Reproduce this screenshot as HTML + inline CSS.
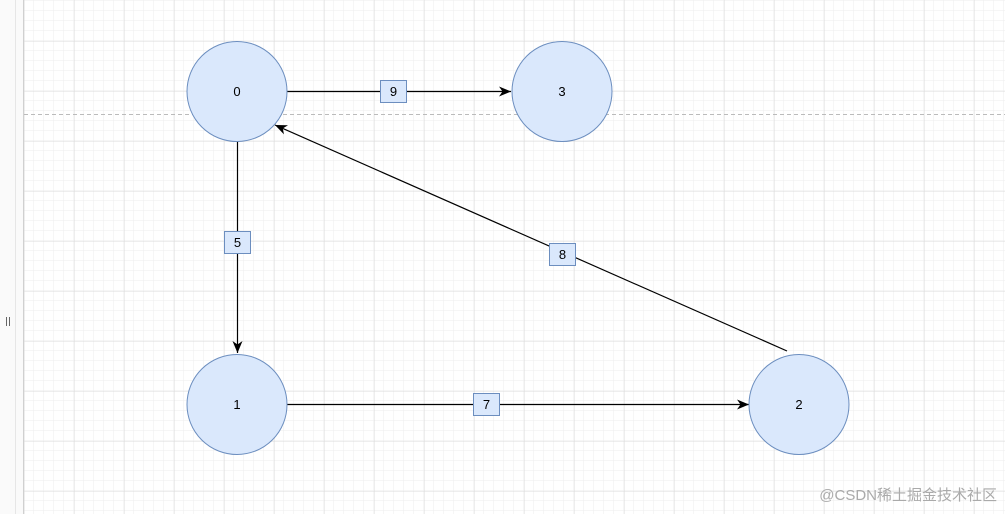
<!DOCTYPE html>
<html><head><style>
body{margin:0;width:1005px;height:514px;overflow:hidden;background:#fff;font-family:"Liberation Sans",sans-serif}
</style></head><body>
<svg width="1005" height="514" xmlns="http://www.w3.org/2000/svg">
<defs>
<pattern id="mn" x="24" y="1" width="10" height="10" patternUnits="userSpaceOnUse"><path d="M10 0V10M0 10H10" stroke="#eeeeee" stroke-width="1" fill="none"/></pattern>
<pattern id="mj" x="24.5" y="41.5" width="50" height="50" patternUnits="userSpaceOnUse"><path d="M0 0V50M0 0H50" stroke="#dcdcdc" stroke-width="1" fill="none"/></pattern>
<marker id="a" markerWidth="13" markerHeight="12" refX="12" refY="6" orient="auto" markerUnits="userSpaceOnUse"><path d="M0 1L12 6L0 11L3.5 6Z" fill="#000"/></marker>
</defs>
<rect x="0" y="0" width="23" height="514" fill="#fafafa"/>
<line x1="15.5" y1="0" x2="15.5" y2="514" stroke="#e6e6e6"/>
<line x1="23.5" y1="0" x2="23.5" y2="514" stroke="#d0d0d0"/>
<rect x="24" y="0" width="981" height="514" fill="url(#mn)"/>
<rect x="24" y="0" width="981" height="514" fill="url(#mj)"/>
<line x1="24" y1="114.5" x2="1005" y2="114.5" stroke="#bbb" stroke-dasharray="4,3"/>
<rect x="6" y="317" width="1" height="9" fill="#666"/><rect x="9" y="317" width="1" height="9" fill="#666"/>
<g stroke="#000" stroke-width="1.2" fill="none">
<line x1="287" y1="91.5" x2="511" y2="91.5" marker-end="url(#a)"/>
<line x1="237.5" y1="141" x2="237.5" y2="353" marker-end="url(#a)"/>
<line x1="287" y1="404.5" x2="749" y2="404.5" marker-end="url(#a)"/>
<line x1="787" y1="351" x2="275" y2="125" marker-end="url(#a)"/>
</g>
<g fill="#dae8fc" stroke="#6c8ebf" stroke-width="1">
<circle cx="237" cy="91.5" r="50"/>
<circle cx="562" cy="91.5" r="50"/>
<circle cx="237" cy="404.5" r="50"/>
<circle cx="799" cy="404.5" r="50"/>
<rect x="380.5" y="80.5" width="26" height="22"/>
<rect x="224.5" y="231.5" width="26" height="22"/>
<rect x="473.5" y="393.5" width="26" height="22"/>
<rect x="549.5" y="243.5" width="26" height="22"/>
</g>
<g font-size="13" text-anchor="middle" fill="#000">
<text x="237" y="96">0</text><text x="562" y="96">3</text>
<text x="237" y="409">1</text><text x="799" y="409">2</text>
<text x="393.5" y="96">9</text><text x="237.5" y="247">5</text>
<text x="486.5" y="409">7</text><text x="562.5" y="259">8</text>
</g>
<text x="997" y="500" font-size="15" text-anchor="end" fill="#aaa" font-family="Liberation Sans,Noto Sans CJK SC,sans-serif">@CSDN稀土掘金技术社区</text>
</svg>
</body></html>
